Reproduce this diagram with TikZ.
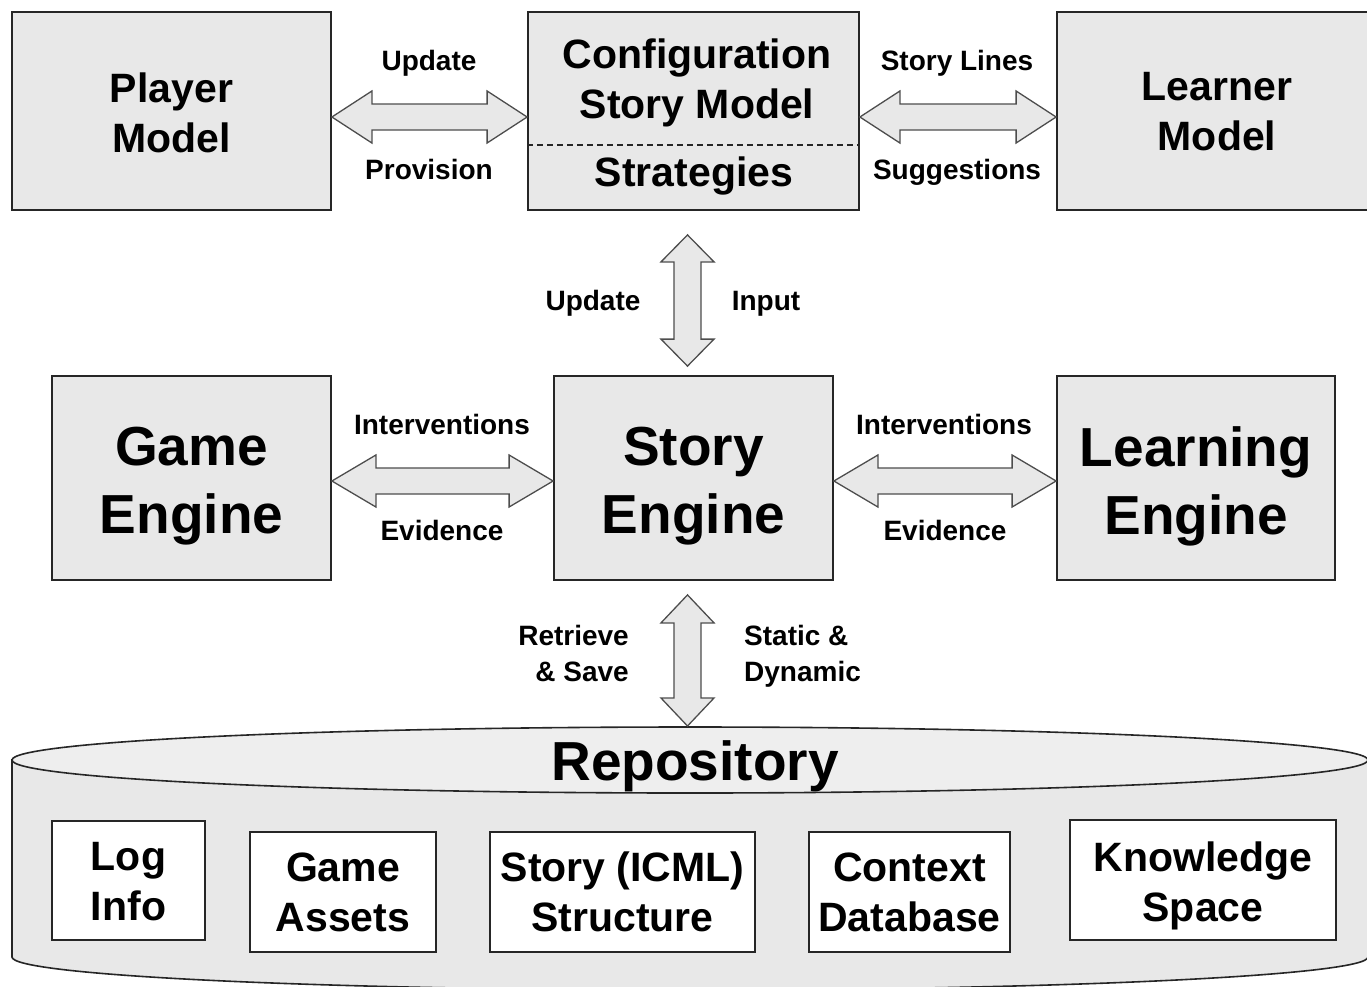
\documentclass[tikz,border=0pt]{standalone}
\usepackage{fontspec}
\setmainfont{Liberation Sans}
\usetikzlibrary{calc}

\definecolor{boxfill}{HTML}{E8E8E8}
\definecolor{topfill}{HTML}{EEEEEE}
\definecolor{edge}{HTML}{262626}
\definecolor{arrowedge}{HTML}{4D4D4D}

\tikzset{
  module/.style={draw=edge, line width=1.8pt, fill=boxfill, inner sep=0pt},
  store/.style={draw=edge, line width=1.6pt, fill=white, inner sep=0pt},
  modtext/.style={font=\fontsize{41pt}{50pt}\selectfont\bfseries, align=center, inner sep=0pt},
  bigtext/.style={font=\fontsize{55pt}{68pt}\selectfont\bfseries, align=center, inner sep=0pt},
  flowlabel/.style={font=\fontsize{28pt}{36pt}\selectfont\bfseries, inner sep=0pt},
  flowarrow/.style={draw=arrowedge, line width=1.3pt, fill=boxfill, line join=miter},
}

% horizontal two-way block arrow: #1 left tip, #2 right tip, #3 head length
\newcommand\hbiarrow[3]{%
  \draw[flowarrow] let \p1=(#1), \p2=(#2) in
    (\x1,\y1) -- (\x1+#3,\y1+26pt) -- (\x1+#3,\y1+13pt) -- (\x2-#3,\y1+13pt)
    -- (\x2-#3,\y1+26pt) -- (\x2,\y1) -- (\x2-#3,\y1-26pt) -- (\x2-#3,\y1-13pt)
    -- (\x1+#3,\y1-13pt) -- (\x1+#3,\y1-26pt) -- cycle;}

% vertical two-way block arrow: #1 upper tip, #2 lower tip, #3 head length
\newcommand\vbiarrow[3]{%
  \draw[flowarrow] let \p1=(#1), \p2=(#2) in
    (\x1,\y1) -- (\x1+26.5pt,\y1-#3) -- (\x1+13.5pt,\y1-#3) -- (\x1+13.5pt,\y2+#3)
    -- (\x1+26.5pt,\y2+#3) -- (\x1,\y2) -- (\x1-26.5pt,\y2+#3) -- (\x1-13.5pt,\y2+#3)
    -- (\x1-13.5pt,\y1-#3) -- (\x1-26.5pt,\y1-#3) -- cycle;}

\begin{document}
\begin{tikzpicture}[x=1pt,y=1pt]
\useasboundingbox (0,0) rectangle (1367,-986);

% ---- models ----
\node[module, minimum width=319pt, minimum height=198pt] (player) at (171.5,-111) {};
\node[modtext] (playertxt) at ($(player)+(0,-2)$) {Player\\Model};
\node[module, minimum width=331pt, minimum height=198pt] (config) at (693.5,-111) {};
\draw[edge, line width=1.5pt, dash pattern=on 6pt off 4pt]
  ($(config.west)+(0,-34)$) -- ($(config.east)+(0,-34)$);
\node[modtext] (cfgname) at (697,-83) {Configuration\\Story Model};
\node[modtext, anchor=base] (strategies) at (694,-186) {Strategies};
\node[module, minimum width=320pt, minimum height=198pt] (learner) at (1217,-111) {};
\node[modtext] (learnertxt) at ($(learner)+(0,-1)$) {Learner\\Model};

% ---- engines ----
\node[module, minimum width=279pt, minimum height=204pt] (game) at (191.5,-478) {};
\node[bigtext] (gametxt) at ($(game)+(0,-8)$) {Game\\Engine};
\node[module, minimum width=279pt, minimum height=204pt] (story) at (693.5,-478) {};
\node[bigtext] (storytxt) at ($(story)+(0,-8)$) {Story\\Engine};
\node[module, minimum width=278pt, minimum height=204pt] (learning) at (1196,-478) {};
\node[bigtext] (learningtxt) at ($(learning)+(0,-8)$) {Learning\\Engine};

% ---- repository cylinder ----
\path[draw=edge, line width=1.6pt, fill=boxfill]
  (12,-760) -- (12,-957) arc[start angle=180, end angle=360, x radius=678pt, y radius=33pt]
  -- (1368,-760) -- cycle;
\draw[edge, line width=1.6pt, fill=topfill] (690,-760) ellipse[x radius=678pt, y radius=33pt];
\node[bigtext, anchor=base] (repo) at (695,-780) {Repository};
\coordinate (repotop) at (687,-726);

\node[store, minimum width=153pt, minimum height=119pt] (loginfo) at (128.5,-880.5) {};
\node[modtext] (logtxt) at ($(loginfo)+(0,-1)$) {Log\\Info};
\node[store, minimum width=186pt, minimum height=120pt] (assets) at (343,-892) {};
\node[modtext] (assetstxt) at ($(assets)+(0,0)$) {Game\\Assets};
\node[store, minimum width=265pt, minimum height=120pt] (icml) at (622.5,-892) {};
\node[modtext] (icmltxt) at ($(icml)+(0,0)$) {Story (ICML)\\Structure};
\node[store, minimum width=201pt, minimum height=120pt] (context) at (909.5,-892) {};
\node[modtext] (contexttxt) at ($(context)+(0,0)$) {Context\\Database};
\node[store, minimum width=266pt, minimum height=120pt] (knowledge) at (1203,-880) {};
\node[modtext] (knowledgetxt) at ($(knowledge)+(0,-6)$) {Knowledge\\Space};

% ---- connector end points ----
\coordinate (pl-r) at ($(player.east)+(0,-6)$);
\coordinate (cf-l) at ($(config.west)+(0,-6)$);
\coordinate (cf-r) at ($(config.east)+(0,-6)$);
\coordinate (ln-l) at ($(learner.west)+(0,-6)$);
\coordinate (cf-b) at ($(config.south)+(-6,-24)$);
\coordinate (st-t) at ($(story.north)+(-6,9)$);
\coordinate (gm-r) at ($(game.east)+(0,-3)$);
\coordinate (st-l) at ($(story.west)+(0,-3)$);
\coordinate (st-r) at ($(story.east)+(0,-3)$);
\coordinate (le-l) at ($(learning.west)+(0,-3)$);
\coordinate (st-b) at ($(story.south)+(-6,-14)$);

% ---- connectors ----
\hbiarrow{pl-r}{cf-l}{40pt}
\hbiarrow{cf-r}{ln-l}{40pt}
\vbiarrow{cf-b}{st-t}{27pt}
\hbiarrow{gm-r}{st-l}{44pt}
\hbiarrow{st-r}{le-l}{44pt}
\vbiarrow{st-b}{repotop}{28pt}

% ---- connector labels ----
\node[flowlabel, anchor=base] (lupd1) at (429,-70) {Update};
\node[flowlabel, anchor=base] (lprov) at (429,-179) {Provision};
\node[flowlabel, anchor=base] (lines) at (957,-70) {Story Lines};
\node[flowlabel, anchor=base] (lsugg) at (957,-179) {Suggestions};
\node[flowlabel, anchor=base] (lupd2) at (593,-310) {Update};
\node[flowlabel, anchor=base] (linput) at (766,-310) {Input};
\node[flowlabel, anchor=base] (lint1) at (442,-434) {Interventions};
\node[flowlabel, anchor=base] (lev1) at (442,-540) {Evidence};
\node[flowlabel, anchor=base] (lint2) at (944,-434) {Interventions};
\node[flowlabel, anchor=base] (lev2) at (945,-540) {Evidence};
\node[flowlabel, align=right, anchor=east] (lret) at (629,-653) {Retrieve\\\& Save};
\node[flowlabel, align=left, anchor=west] (lstat) at (744,-656) {Static \&\\Dynamic};
\end{tikzpicture}
\end{document}
